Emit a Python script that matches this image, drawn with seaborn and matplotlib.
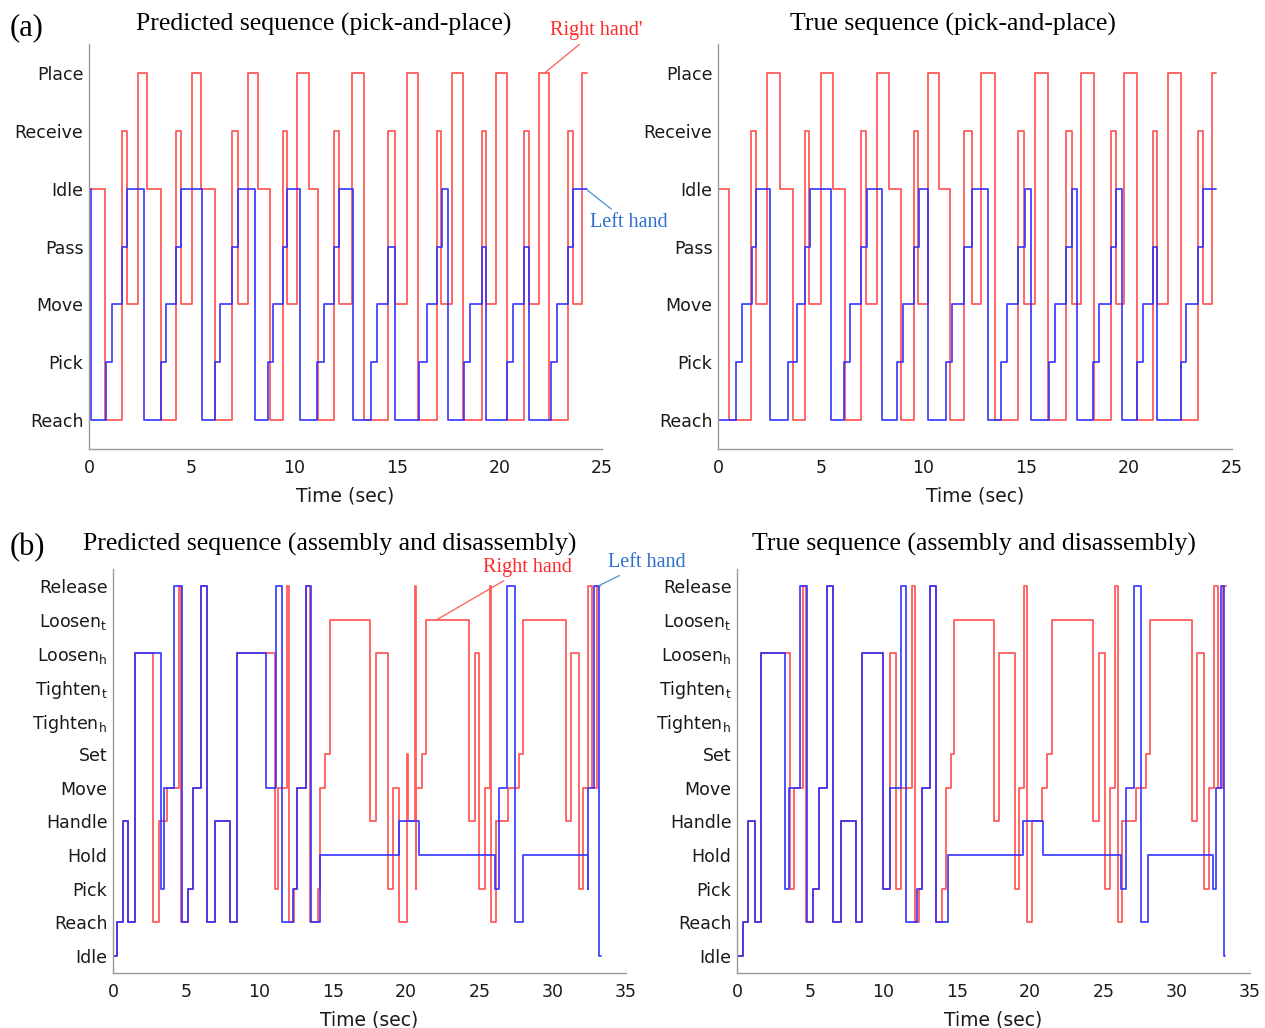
import numpy as np
import pandas as pd
import matplotlib
matplotlib.use('Agg')
import matplotlib.pyplot as plt
import seaborn as sns

# ---------------- state vocabularies (bottom -> top) ----------------
pp_states = ['Reach', 'Pick', 'Move', 'Pass', 'Idle', 'Receive', 'Place']
ad_states = ['Idle', 'Reach', 'Pick', 'Hold', 'Handle', 'Move', 'Set',
             'Tighten_h', 'Tighten_t', 'Loosen_h', 'Loosen_t', 'Release']

# ---------------- (a) pick-and-place, predicted ----------------
pp_pred_left_t = [0, 0.10, 0.82, 1.10, 1.59, 1.87, 2.68, 3.51, 3.74, 4.22, 4.47, 5.52, 6.14, 6.38,
                  6.95, 7.25, 8.09, 8.74, 8.98, 9.47, 9.66, 10.28, 11.13, 11.45, 11.92, 12.20, 12.88,
                  13.73, 14.05, 14.59, 14.91, 16.08, 16.45, 16.94, 17.19, 17.48, 18.28, 18.57, 19.14,
                  19.33, 20.35, 20.68, 21.22, 21.44, 22.50, 22.82, 23.36, 23.60]
pp_pred_left_s = ['Idle', 'Reach', 'Pick', 'Move', 'Pass', 'Idle', 'Reach', 'Pick', 'Move', 'Pass', 'Idle',
                  'Reach', 'Pick', 'Move', 'Pass', 'Idle', 'Reach', 'Pick', 'Move', 'Pass', 'Idle',
                  'Reach', 'Pick', 'Move', 'Pass', 'Idle', 'Reach', 'Pick', 'Move', 'Pass',
                  'Reach', 'Pick', 'Move', 'Pass', 'Idle', 'Reach', 'Pick', 'Move', 'Pass',
                  'Reach', 'Pick', 'Move', 'Pass', 'Reach', 'Pick', 'Move', 'Pass', 'Idle']
pp_pred_left_end = 24.25

pp_pred_right_t = [0, 0.78, 1.59, 1.87, 2.37, 2.84, 3.51, 4.22, 4.47, 5.00, 5.46, 6.14, 6.95, 7.25,
                   7.73, 8.22, 8.82, 9.47, 9.66, 10.15, 10.72, 11.18, 11.92, 12.18, 12.80, 13.42,
                   14.59, 14.91, 15.48, 16.02, 16.94, 17.15, 17.68, 18.24, 19.14, 19.33, 19.84,
                   20.35, 21.22, 21.44, 21.95, 22.43, 23.36, 23.60, 24.01]
pp_pred_right_s = ['Idle', 'Reach', 'Receive', 'Move', 'Place'] * 5 + ['Reach', 'Receive', 'Move', 'Place'] * 5
pp_pred_right_end = 24.25

# ---------------- (a) pick-and-place, true ----------------
pp_true_left_t = [0, 0.875, 1.15, 1.64, 1.83, 2.53, 3.42, 3.83, 4.23, 4.47, 5.50, 6.13, 6.42, 6.96,
                  7.23, 7.99, 8.72, 9.01, 9.53, 9.79, 10.23, 11.09, 11.40, 11.98, 12.37, 13.15, 13.75,
                  14.04, 14.61, 14.93, 15.21, 16.09, 16.39, 16.92, 17.20, 17.48, 18.26, 18.55, 19.11,
                  19.34, 19.63, 20.36, 20.69, 21.17, 21.36, 22.50, 22.76, 23.36, 23.61]
pp_true_left_s = ['Reach', 'Pick', 'Move', 'Pass', 'Idle'] * 8 + ['Reach', 'Pick', 'Move', 'Pass'] + \
                 ['Reach', 'Pick', 'Move', 'Pass', 'Idle']
pp_true_left_end = 24.22

pp_true_right_t = [0, 0.535, 1.605, 1.83, 2.40, 3.02, 3.66, 4.23, 4.44, 5.01, 5.61, 6.18, 6.96, 7.18,
                   7.72, 8.32, 8.90, 9.53, 9.74, 10.23, 10.75, 11.28, 11.98, 12.37, 12.79, 13.45,
                   14.58, 14.90, 15.42, 16.06, 16.91, 17.20, 17.66, 18.27, 19.11, 19.34, 19.76,
                   20.36, 21.14, 21.36, 21.90, 22.50, 23.36, 23.57, 24.01]
pp_true_right_s = ['Idle', 'Reach', 'Receive', 'Move', 'Place'] * 5 + ['Reach', 'Receive', 'Move', 'Place'] * 5
pp_true_right_end = 24.22

# ---------------- (b) assembly and disassembly, predicted ----------------
ad_pred_left_t = [0, 0.30, 0.66, 1.00, 1.50, 3.27, 3.50, 4.18, 4.69, 5.14, 5.48, 5.98, 6.39, 6.96,
                  7.98, 8.48, 10.44, 11.10, 11.51, 12.30, 12.53, 13.15, 13.48, 14.12, 19.53, 20.88,
                  26.06, 26.34, 26.86, 27.43, 27.95, 32.39, 32.43, 32.82, 33.15]
ad_pred_left_s = ['Idle', 'Reach', 'Handle', 'Reach', 'Loosen_h', 'Pick', 'Move', 'Release', 'Reach',
                  'Pick', 'Move', 'Release', 'Reach', 'Handle', 'Reach', 'Loosen_h', 'Move', 'Release',
                  'Reach', 'Pick', 'Move', 'Release', 'Reach', 'Hold', 'Handle', 'Hold', 'Pick', 'Move',
                  'Release', 'Reach', 'Hold', 'Pick', 'Move', 'Release', 'Idle']
ad_pred_left_end = 33.29

ad_pred_right_t = [0, 0.30, 0.66, 1.00, 1.50, 2.75, 3.16, 3.71, 4.50, 4.64, 5.14, 5.48, 5.98, 6.39,
                   6.96, 7.98, 8.48, 11.05, 11.28, 11.85, 12.03, 12.35, 12.53, 13.15, 13.44, 14.01,
                   14.12, 14.46, 14.81, 17.53, 17.92, 18.78, 19.13, 19.51, 20.04, 20.12, 20.58, 20.65,
                   20.69, 21.06, 21.33, 24.31, 24.70, 24.99, 25.38, 25.72, 25.79, 26.13, 26.97, 27.70,
                   27.99, 30.91, 31.25, 31.79, 32.04, 32.43, 32.70, 32.99]
ad_pred_right_s = ['Idle', 'Reach', 'Handle', 'Reach', 'Loosen_h', 'Reach', 'Handle', 'Move', 'Release',
                   'Reach', 'Pick', 'Move', 'Release', 'Reach', 'Handle', 'Reach', 'Loosen_h', 'Pick',
                   'Move', 'Release', 'Reach', 'Pick', 'Move', 'Release', 'Reach', 'Pick', 'Move', 'Set',
                   'Loosen_t', 'Handle', 'Loosen_h', 'Pick', 'Move', 'Reach', 'Set', 'Handle', 'Release',
                   'Pick', 'Move', 'Set', 'Loosen_t', 'Handle', 'Loosen_h', 'Pick', 'Move', 'Release',
                   'Reach', 'Handle', 'Move', 'Set', 'Loosen_t', 'Handle', 'Loosen_h', 'Pick', 'Move',
                   'Release', 'Move', 'Release']
ad_pred_right_end = 33.22

# ---------------- (b) assembly and disassembly, true ----------------
ad_true_left_t = [0, 0.43, 0.77, 1.23, 1.61, 3.27, 3.57, 4.30, 4.75, 5.21, 5.62, 6.12, 6.53, 7.10,
                  8.10, 8.55, 9.98, 10.44, 11.17, 11.53, 12.30, 12.64, 13.17, 13.58, 14.42, 19.54,
                  20.86, 26.20, 26.54, 27.09, 27.56, 28.02, 32.50, 32.66, 33.00, 33.23]
ad_true_left_s = ['Idle', 'Reach', 'Handle', 'Reach', 'Loosen_h', 'Pick', 'Move', 'Release', 'Reach',
                  'Pick', 'Move', 'Release', 'Reach', 'Handle', 'Reach', 'Loosen_h', 'Pick', 'Move',
                  'Release', 'Reach', 'Pick', 'Move', 'Release', 'Reach', 'Hold', 'Handle', 'Hold',
                  'Pick', 'Move', 'Release', 'Reach', 'Hold', 'Pick', 'Move', 'Release', 'Idle']
ad_true_left_end = 33.29

ad_true_right_t = [0, 0.43, 0.77, 1.23, 1.61, 3.62, 3.91, 4.48, 4.71, 5.21, 5.62, 6.12, 6.53, 7.10,
                   8.10, 8.55, 9.98, 10.44, 10.83, 11.17, 11.96, 12.15, 12.40, 12.64, 13.17, 13.58,
                   13.96, 14.24, 14.58, 14.83, 17.56, 17.88, 18.97, 19.24, 19.58, 19.76, 20.10, 20.79,
                   21.13, 21.47, 24.31, 24.72, 25.11, 25.45, 25.79, 25.97, 26.24, 27.22, 27.90, 28.17,
                   31.02, 31.41, 31.88, 32.20, 32.55, 32.79, 33.18]
ad_true_right_s = ['Idle', 'Reach', 'Handle', 'Reach', 'Loosen_h', 'Pick', 'Move', 'Release', 'Reach',
                   'Pick', 'Move', 'Release', 'Reach', 'Handle', 'Reach', 'Loosen_h', 'Pick', 'Loosen_h',
                   'Pick', 'Move', 'Release', 'Reach', 'Pick', 'Move', 'Release', 'Reach', 'Pick', 'Move',
                   'Set', 'Loosen_t', 'Handle', 'Loosen_h', 'Pick', 'Move', 'Release', 'Reach', 'Handle',
                   'Move', 'Set', 'Loosen_t', 'Handle', 'Loosen_h', 'Pick', 'Move', 'Release', 'Reach',
                   'Handle', 'Move', 'Set', 'Loosen_t', 'Handle', 'Loosen_h', 'Pick', 'Move', 'Release',
                   'Move', 'Release']
ad_true_right_end = 33.34

pp_xticks = [0, 5, 10, 15, 20, 25]
ad_xticks = [0, 5, 10, 15, 20, 25, 30, 35]

# ---------------- styling ----------------
sns.set_theme(style='white')
plt.rcParams['font.family'] = ['DejaVu Sans']
plt.rcParams['mathtext.fontset'] = 'dejavusans'

RED = '#ff4a4a'
BLUE = '#2f2fff'
SPINE = '#9a9a9a'
SERIF = ['Liberation Serif', 'DejaVu Serif']

W, H = 1265, 1028
fig = plt.figure(figsize=(12.65, 10.28), dpi=100)


def add_ax(x0, x1, y_top, y_bot):
    return fig.add_axes([x0 / W, 1 - y_bot / H, (x1 - x0) / W, (y_bot - y_top) / H])


def label(n):
    if '_' in n:
        b, s = n.split('_')
        return b + r'$_\mathrm{' + s + '}$'
    return n


def draw(ax, t, s, end, states, color):
    idx = {n: i + 1 for i, n in enumerate(states)}
    df = pd.DataFrame({'t': list(t) + [end],
                       'level': [idx[v] for v in s] + [idx[s[-1]]]})
    sns.lineplot(data=df, x='t', y='level', ax=ax, color=color, lw=1.3,
                 drawstyle='steps-post', estimator=None, sort=False, alpha=0.9)


def style(ax, states, xticks):
    ax.set_ylim(0.5, len(states) + 0.5)
    ax.set_xlim(xticks[0], xticks[-1])
    ax.set_yticks(range(1, len(states) + 1))
    ax.set_yticklabels([label(n) for n in states])
    ax.set_xticks(xticks)
    ax.set_xlabel('Time (sec)', fontsize=13.5, color='#1a1a1a', labelpad=7)
    ax.set_ylabel('')
    for sp in ['top', 'right']:
        ax.spines[sp].set_visible(False)
    for sp in ['left', 'bottom']:
        ax.spines[sp].set_color(SPINE)
        ax.spines[sp].set_linewidth(1.0)
    ax.tick_params(direction='in', length=5, width=1, color=SPINE,
                   labelsize=12.5, labelcolor='#1a1a1a')
    ax.tick_params(axis='y', pad=4)
    ax.tick_params(axis='x', pad=7)
    ax.grid(False)


ax_a1 = add_ax(89, 602, 44.1, 448.9)
ax_a2 = add_ax(718, 1232, 44.1, 448.9)
ax_b1 = add_ax(113, 626, 569.2, 972.8)
ax_b2 = add_ax(737, 1250, 569.2, 972.8)

draw(ax_a1, pp_pred_right_t, pp_pred_right_s, pp_pred_right_end, pp_states, RED)
draw(ax_a1, pp_pred_left_t, pp_pred_left_s, pp_pred_left_end, pp_states, BLUE)
draw(ax_a2, pp_true_right_t, pp_true_right_s, pp_true_right_end, pp_states, RED)
draw(ax_a2, pp_true_left_t, pp_true_left_s, pp_true_left_end, pp_states, BLUE)
draw(ax_b1, ad_pred_right_t, ad_pred_right_s, ad_pred_right_end, ad_states, RED)
draw(ax_b1, ad_pred_left_t, ad_pred_left_s, ad_pred_left_end, ad_states, BLUE)
draw(ax_b2, ad_true_right_t, ad_true_right_s, ad_true_right_end, ad_states, RED)
draw(ax_b2, ad_true_left_t, ad_true_left_s, ad_true_left_end, ad_states, BLUE)

for ax in (ax_a1, ax_a2):
    style(ax, pp_states, pp_xticks)
for ax in (ax_b1, ax_b2):
    style(ax, ad_states, ad_xticks)

# titles and panel letters
fig.text(27 / W, 1 - 28 / H, '(a)', ha='center', va='center', family=SERIF, size=22, color='black')
fig.text(27 / W, 1 - 548 / H, '(b)', ha='center', va='center', family=SERIF, size=22, color='black')
fig.text(324 / W, 1 - 24 / H, 'Predicted sequence (pick-and-place)', ha='center', va='center',
         family=SERIF, size=18.5, color='black')
fig.text(953 / W, 1 - 24 / H, 'True sequence (pick-and-place)', ha='center', va='center',
         family=SERIF, size=18.5, color='black')
fig.text(330 / W, 1 - 544 / H, 'Predicted sequence (assembly and disassembly)', ha='center',
         va='center', family=SERIF, size=18.5, color='black')
fig.text(974 / W, 1 - 544 / H, 'True sequence (assembly and disassembly)', ha='center',
         va='center', family=SERIF, size=18.5, color='black')

# hand annotations
ann_red = dict(arrowstyle='-', color='#ff5a5a', lw=0.9, shrinkA=1, shrinkB=0)
ann_blue = dict(arrowstyle='-', color='#4a90d0', lw=0.9, shrinkA=1, shrinkB=0)
ax_a1.annotate("Right hand'", xy=(22.2, 7.0), xytext=(24.7, 7.73), color='#ff2a2a', family=SERIF,
               size=14.5, ha='center', va='center', arrowprops=ann_red, annotation_clip=False)
ax_a1.annotate('Left hand', xy=(24.3, 4.97), xytext=(26.3, 4.41), color='#2f6fcf', family=SERIF,
               size=14.5, ha='center', va='center', arrowprops=ann_blue, annotation_clip=False)
ax_b1.annotate('Right hand', xy=(22.1, 11.0), xytext=(28.25, 12.56), color='#ff2a2a', family=SERIF,
               size=14.5, ha='center', va='center', arrowprops=ann_red, annotation_clip=False)
ax_b1.annotate('Left hand', xy=(33.1, 12.0), xytext=(36.4, 12.71), color='#2f6fcf', family=SERIF,
               size=14.5, ha='center', va='center', arrowprops=ann_blue, annotation_clip=False)

fig.savefig('out.png', dpi=100)
